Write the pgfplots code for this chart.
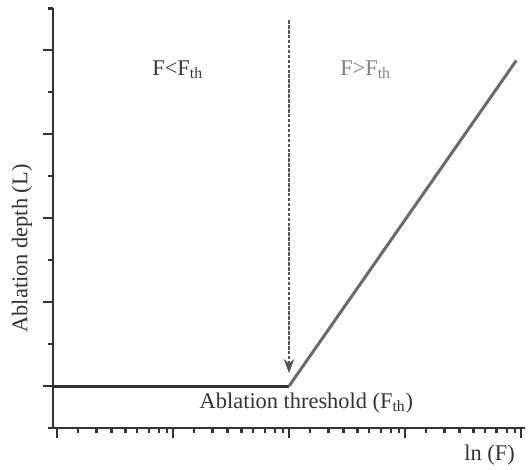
\documentclass[border=0pt]{standalone}
\usepackage{fontspec}
\setmainfont{Liberation Serif}
\usepackage{pgfplots}
\pgfplotsset{compat=1.18}
\usetikzlibrary{arrows.meta}
\definecolor{darkline}{HTML}{333333}
\definecolor{grayline}{HTML}{6A6A6A}
\definecolor{dashgray}{HTML}{555555}

\begin{document}
\begin{tikzpicture}
\begin{axis}[
    scale only axis,
    width=267.7pt,
    height=238pt,
    xmin=-0.035, xmax=4.035,
    ymin=-0.5, ymax=4.5,
    axis x line*=bottom,
    axis y line*=left,
    axis line style={draw=darkline, line width=1.2pt, -},
    xtick={0,1,2,3,4},
    minor xtick={0.18,0.34,0.47,0.59,0.69,0.79,0.88,0.95,
                 1.18,1.34,1.47,1.59,1.69,1.79,1.88,1.95,
                 2.18,2.34,2.47,2.59,2.69,2.79,2.88,2.95,
                 3.18,3.34,3.47,3.59,3.69,3.79,3.88,3.95},
    ytick={0,1,2,3,4},
    minor ytick={-0.5,0.5,1.5,2.5,3.5,4.5},
    xticklabels={}, yticklabels={},
    tick align=outside,
    major tick length=5.5pt,
    minor tick length=2.8pt,
    every tick/.style={draw=darkline, line width=1.3pt},
    clip=false,
    font=\fontsize{12.7}{15}\selectfont,
]
\coordinate (o) at (rel axis cs:0,0);
% below threshold: no ablation
\addplot[darkline, line width=1.8pt, no marks] coordinates {(-0.035,0) (2,0)};
% above threshold: linear in ln(F)
\addplot[grayline, line width=1.7pt, no marks] coordinates {(2,0) (3.96,3.88)};
\draw[dashgray, line width=1.1pt, dash pattern=on 2pt off 0.8pt,
      -{Stealth[length=8pt,width=6pt]}] (axis cs:2,4.36) -- (axis cs:2,0.155);
\node[text=black!78] at (axis cs:1.04,3.77) {F<F\textsubscript{th}};
\node[text=black!50] at (axis cs:2.66,3.77) {F>F\textsubscript{th}};
\node[text=darkline] at (axis cs:2.15,-0.2) {Ablation threshold (F\textsubscript{th})};
\node[text=darkline] at (axis cs:3.73,-0.82) {ln (F)};
\node[text=darkline, rotate=90] at ([xshift=-17.6pt]axis cs:-0.035,1.64) {Ablation depth (L)};
\end{axis}
\pgfresetboundingbox
\path[use as bounding box] (o) ++(-30.06pt,-23.25pt) rectangle ++(300pt,266pt);
\end{tikzpicture}
\end{document}
